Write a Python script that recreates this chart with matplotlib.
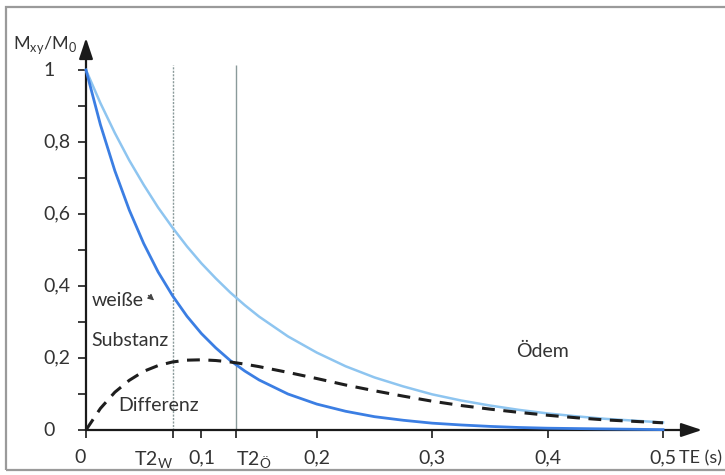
import matplotlib
matplotlib.use("Agg")
import matplotlib.pyplot as plt
import matplotlib.patches as patches

plt.rcParams['font.family'] = ['Lato', 'DejaVu Sans']
plt.rcParams['mathtext.fontset'] = 'custom'
plt.rcParams['mathtext.rm'] = 'Lato'

# --- DATA ---
te = [0, 0.0125, 0.025, 0.0375, 0.05, 0.0625, 0.075, 0.0875, 0.1, 0.1125,
      0.125, 0.1375, 0.15, 0.175, 0.2, 0.225, 0.25, 0.275, 0.3, 0.325,
      0.35, 0.375, 0.4, 0.425, 0.45, 0.475, 0.5]
weisse = [1.0, 0.848, 0.720, 0.611, 0.518, 0.439, 0.373, 0.316, 0.268, 0.228,
          0.193, 0.164, 0.139, 0.100, 0.072, 0.052, 0.037, 0.027, 0.019, 0.014,
          0.010, 0.007, 0.005, 0.004, 0.003, 0.002, 0.001]
oedem = [1.0, 0.908, 0.825, 0.749, 0.681, 0.618, 0.562, 0.510, 0.463, 0.421,
         0.382, 0.347, 0.315, 0.260, 0.215, 0.177, 0.146, 0.121, 0.099, 0.082,
         0.068, 0.056, 0.046, 0.038, 0.031, 0.026, 0.021]
differenz = [0.0, 0.060, 0.105, 0.138, 0.163, 0.179, 0.189, 0.194, 0.195, 0.193,
             0.189, 0.183, 0.176, 0.160, 0.143, 0.125, 0.109, 0.094, 0.080, 0.068,
             0.058, 0.049, 0.041, 0.034, 0.028, 0.024, 0.020]
t2_w = 0.0755
t2_oe = 0.130
xticks = [0, 0.1, 0.2, 0.3, 0.4, 0.5]
xticklabels = ['0', '0,1', '0,2', '0,3', '0,4', '0,5']
yticks = [0, 0.1, 0.2, 0.3, 0.4, 0.5, 0.6, 0.7, 0.8, 0.9, 1.0]
yticklabels = ['0', '', '0,2', '', '0,4', '', '0,6', '', '0,8', '', '1']

FS = 14
TXT = '#333333'
W, H = 725, 475
fig = plt.figure(figsize=(7.25, 4.75), dpi=100)
fig.set_facecolor('white')

# grey frame round the picture
frame = patches.Rectangle((6 / W, 5 / H), 1.2, 1 - 12 / H, transform=fig.transFigure,
                          fill=False, edgecolor='#9a9a9a', lw=1.6)
fig.patches.append(frame)

# axes: x=0 at px 86, 0.1 per 115.4 px ; y=0 at px 430, 1 per 360 px
x0, y0 = 86, 430
xmax = (702 - x0) / 1154
ymax = (y0 - 38) / 360
ax = fig.add_axes([x0 / W, (H - y0) / H, (702 - x0) / W, (y0 - 38) / H])
ax.set_xlim(0, xmax)
ax.set_ylim(0, ymax)
ax.patch.set_alpha(0)
for s in ax.spines.values():
    s.set_visible(False)

# axis arrows
arrow = dict(arrowstyle='-|>,head_length=0.9,head_width=0.3', color='#1a1a1a', lw=1.6,
             mutation_scale=14, shrinkA=0, shrinkB=0)
ax.annotate('', xy=(1, 0), xytext=(0, 0), xycoords='axes fraction', arrowprops=arrow)
ax.annotate('', xy=(0, 1), xytext=(0, 0), xycoords='axes fraction', arrowprops=arrow)

# ticks
ax.set_yticks(yticks)
ax.set_yticklabels([''] * len(yticks))
ax.tick_params(axis='y', direction='out', length=6, width=1.2, color='#1a1a1a')
yt = ax.get_yaxis_transform()
for v, lab in zip(yticks, yticklabels):
    if lab:
        ax.text(-43 / (702 - x0), v, lab, transform=yt, ha='left', va='center',
                fontsize=FS, color=TXT)

ax.set_xticks(xticks + [t2_w, t2_oe])
ax.set_xticklabels(xticklabels + [r'T2$_\mathregular{W}$', r'T2$_\mathregular{Ö}$'])
ax.tick_params(axis='x', direction='out', length=6, width=1.2, color='#1a1a1a',
               pad=8, labelsize=FS, labelcolor=TXT)
labels = ax.get_xticklabels()
labels[0].set_ha('right')
labels[6].set_ha('right')
labels[7].set_ha('left')

ax.text(0.5135, -28 / (y0 - 38), 'TE (s)', transform=ax.get_xaxis_transform(),
        ha='left', va='center', fontsize=13, color=TXT)

# T2 marker lines
ax.vlines(t2_w, 0, 1.015, colors='#8a9a9a', lw=1.0, linestyles=(0, (1.5, 1)))
ax.vlines(t2_oe, 0, 1.015, colors='#8a9a9a', lw=1.0)

# curves
ax.plot(te, oedem, color='#8ec5f0', lw=1.8, zorder=3, clip_on=False)
ax.plot(te, weisse, color='#3b7ee3', lw=2.0, zorder=4, clip_on=False)
ax.plot(te, differenz, color='#1e1e1e', lw=2.2, ls=(0, (4.2, 2.8)), zorder=5, clip_on=False)

# y axis title
fig.text(13 / W, 1 - 45 / H, r'M$_\mathregular{xy}$/M$_\mathregular{0}$',
         ha='left', va='center', fontsize=13, color=TXT)

# curve labels
ax.text(0.005, 0.361, 'weiße', ha='left', va='center', fontsize=FS, color=TXT)
ax.text(0.005, 0.25, 'Substanz', ha='left', va='center', fontsize=FS, color=TXT)
ax.text(0.373, 0.217, 'Ödem', ha='left', va='center', fontsize=FS, color=TXT)
ax.text(0.028, 0.069, 'Differenz', ha='left', va='center', fontsize=FS, color=TXT)
ax.annotate('', xy=(0.059, 0.36), xytext=(0.054, 0.374),
            arrowprops=dict(arrowstyle='-|>', color='#444444', lw=0.8,
                            mutation_scale=9, shrinkA=0, shrinkB=0))

fig.savefig('out.png', dpi=100, facecolor='white')
